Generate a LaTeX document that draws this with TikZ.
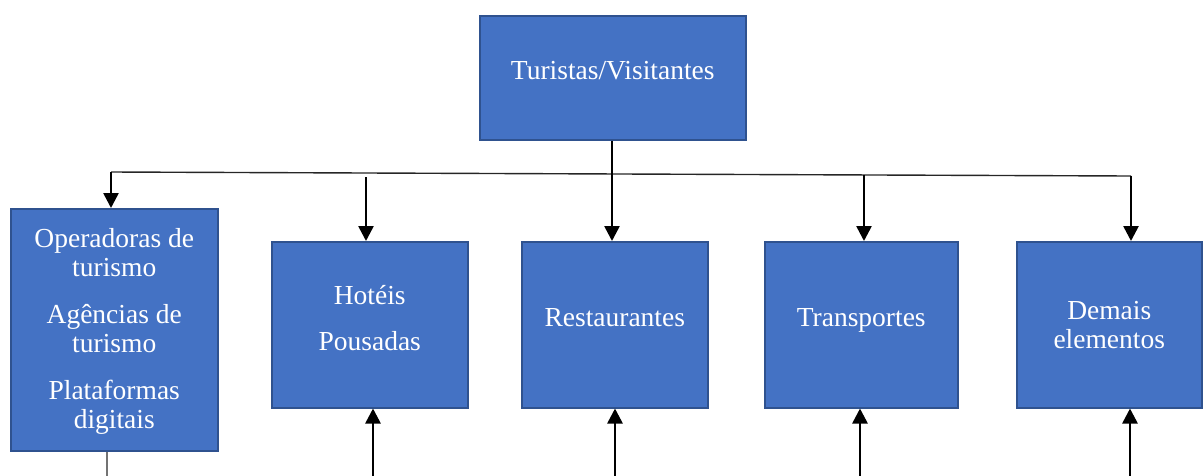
\documentclass[tikz,border=0pt]{standalone}
\usepackage{fontspec}
\setmainfont{Liberation Serif}
\usetikzlibrary{arrows.meta}
\definecolor{boxfill}{HTML}{4472C4}
\definecolor{boxline}{HTML}{2F528F}
\tikzset{
  blockbox/.style={draw=boxline, line width=1.5pt, fill=boxfill, anchor=north west, inner sep=0pt},
  blocktext/.style={text=white, anchor=base, inner sep=0pt, align=center,
    font=\fontsize{27.5}{29}\selectfont},
  busline/.style={draw=black!85, line width=1.4pt},
  feedarrow/.style={draw=black, line width=2.6pt, -{Triangle[width=15pt,length=15pt]}},
  tailline/.style={draw=black!55, line width=1.6pt}
}
\begin{document}
\begin{tikzpicture}[x=1pt,y=-1pt]
\useasboundingbox (0,0) rectangle (1203,475);
% boxes
\node[blockbox, minimum width=266pt, minimum height=124pt] (top) at (479,15) {};
\node[blockbox, minimum width=207pt, minimum height=242pt] (op) at (10,208) {};
\node[blockbox, minimum width=196pt, minimum height=166pt] (hot) at (271,241) {};
\node[blockbox, minimum width=186pt, minimum height=166pt] (res) at (521,241) {};
\node[blockbox, minimum width=193pt, minimum height=166pt] (tra) at (764,241) {};
\node[blockbox, minimum width=185pt, minimum height=166pt] (dem) at (1016,241) {};
% texts (anchored at last baseline)
\node[blocktext] (topT) at (top.center |- 0,79) {Turistas/Visitantes};
\node[blocktext] (opT) at (op.center |- 0,428)
  {Operadoras de\\turismo\\[18pt]Agências de\\turismo\\[18pt]Plataformas\\digitais};
\node[blocktext] (hotT) at (hot.center |- 0,350) {Hotéis\\[17pt]Pousadas};
\node[blocktext] (resT) at (res.center |- 0,326) {Restaurantes};
\node[blocktext] (traT) at (tra.center |- 0,326) {Transportes};
\node[blocktext] (demT) at (dem.center |- 0,348) {Demais\\elementos};
% bus coordinates
\coordinate (bL) at (111,172);
\coordinate (bR) at (1131,176);
\coordinate (hS) at (366,177);
\coordinate (tS) at (864,175);
\draw[busline] (bL) -- (bR);
% down arrows
\draw[feedarrow] (bL) -- (bL |- op.north);
\draw[feedarrow] (hS) -- (hS |- hot.north);
\draw[feedarrow] (top.south -| 612,0) -- (612,241);
\draw[feedarrow] (tS) -- (tS |- tra.north);
\draw[feedarrow] (bR) -- (bR |- dem.north);
% bottom arrows
\coordinate (uh) at (373,476);
\coordinate (ur) at (615,476);
\coordinate (ut) at (860,476);
\coordinate (ud) at (1130,476);
\draw[feedarrow] (uh) -- (uh |- hot.south);
\draw[feedarrow] (ur) -- (ur |- res.south);
\draw[feedarrow] (ut) -- (ut |- tra.south);
\draw[feedarrow] (ud) -- (ud |- dem.south);
\coordinate (uo) at (107,476);
\draw[tailline] (uo) -- (uo |- op.south);
\end{tikzpicture}
\end{document}
